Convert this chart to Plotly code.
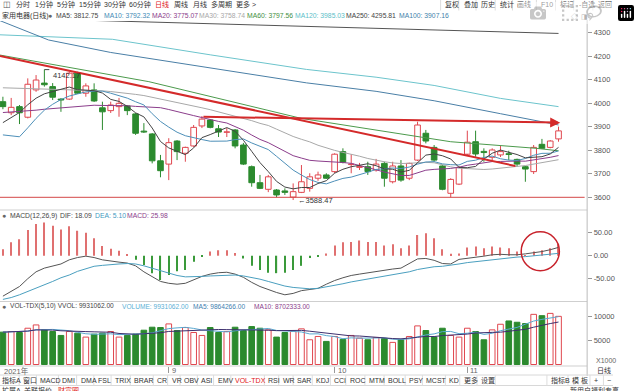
import plotly.graph_objects as go
import pandas as pd

# ---------------- data ----------------
opens = [4006, 3959, 3985, 3940, 4056, 4085, 4070, 4017, 4017, 4127, 4042, 4056, 3980, 3968, 3985, 3988,
         3954, 3881, 3869, 3755, 3741, 3839, 3787, 3818, 3903, 3928, 3891, 3876, 3886, 3822, 3730, 3662,
         3634, 3631, 3627, 3601, 3621, 3638, 3681, 3695, 3709, 3794, 3739, 3727, 3730, 3716, 3744, 3666,
         3733, 3681, 3758, 3872, 3812, 3733, 3617, 3656, 3783, 3836, 3795, 3770, 3780, 3785, 3761, 3730,
         3709, 3825, 3812, 3848]
highs = [4027, 4022, 3992, 4105, 4119, 4142.17, 4085, 4021, 4133, 4133, 4084, 4084, 4006, 4006, 4022, 3992,
         3958, 3915, 3873, 3780, 3851, 3843, 3815, 3907, 3945, 3932, 3907, 3894, 3890, 3831, 3735, 3695,
         3695, 3635, 3638, 3659, 3737, 3702, 3709, 3702, 3787, 3808, 3783, 3746, 3751, 3763, 3751, 3751,
         3758, 3747, 3921, 3886, 3822, 3737, 3681, 3733, 3883, 3883, 3808, 3808, 3818, 3798, 3764, 3733,
         3822, 3848, 3843, 3900]
lows = [3974, 3949, 3911, 3935, 4048, 4070, 4013, 3963, 4013, 4039, 4027, 4005, 3886, 3958, 3942, 3949,
        3865, 3873, 3744, 3685, 3673, 3758, 3751, 3814, 3894, 3893, 3856, 3856, 3808, 3737, 3645, 3635,
        3622, 3600, 3610, 3588.47, 3618, 3624, 3670, 3678, 3702, 3744, 3702, 3716, 3695, 3709, 3645, 3659,
        3666, 3673, 3754, 3829, 3751, 3630, 3600, 3652, 3775, 3772, 3751, 3758, 3771, 3758, 3730, 3666,
        3699, 3805, 3808, 3836]
closes = [3985, 3982, 3959, 4080, 4098, 4078, 4025, 4013, 4127, 4042, 4073, 4009, 3963, 3992, 3999, 3968,
          3872, 3877, 3755, 3713, 3832, 3794, 3812, 3897, 3932, 3897, 3877, 3878, 3818, 3741, 3662, 3638,
          3687, 3610, 3621, 3624, 3666, 3687, 3695, 3681, 3783, 3749, 3741, 3731, 3709, 3741, 3681, 3733,
          3673, 3744, 3907, 3839, 3758, 3634, 3676, 3727, 3834, 3784, 3790, 3801, 3794, 3782, 3741, 3720,
          3812, 3808, 3839, 3882]
# volume in units of 1000 shares (axis label "X1000")
volumes = [6670, 6800, 6600, 7480, 8160, 7140, 6800, 5990, 6800, 6460, 5650, 6260, 6460, 6800, 5650, 5990,
           6260, 7070, 7690, 7620, 8370, 7010, 7620, 6600, 5990, 7620, 6600, 6800, 7690, 7010, 7820, 7480,
           7140, 5650, 6600, 6800, 7350, 5100, 5780, 4760, 5780, 5170, 5990, 5440, 5100, 5580, 5370, 4560,
           5170, 5780, 7960, 7010, 5650, 7480, 5990, 5650, 7480, 6800, 5100, 7140, 8300, 8980, 8710, 8440,
           10340, 10070, 10540, 9931]
macd_hist = [14, 29, 36, 56, 69, 72, 65, 57, 64, 54, 50, 38, 21, 15, 11, 3, -9, -20, -38, -53, -42, -34, -31,
             -13, -1, 9, 12, 12, 6, -6, -22, -31, -37, -38, -37, -31, -22, -5, -1, 5, 22, 29, 30, 33, 30, 30,
             22, 25, 16, 22, 45, 49, 38, 14, 4, 5, 18, 20, 16, 20, 18, 16, 9, 1.5, 9, 12, 16, 26]
dif = [-88, -78, -67, -50, -35, -27, -23, -18, -9, -4, -1, -4, -9, -12, -14, -16, -22, -35, -46, -56, -60,
       -62, -60, -52, -45, -40, -37, -36, -40, -47, -58, -67, -74, -80, -85, -82, -76, -74, -71, -62, -54,
       -48, -43, -40, -37, -34, -31, -29, -27, -17, -7, -6, -10, -17, -18, -8, -6, -3, -1, 2, 3, 2, 2, 4, 6,
       9, 13, 18.09]
dea = [-95, -91, -85, -78, -70, -63, -56, -48, -42, -34, -28, -23, -21, -19, -18, -17, -18, -22, -27, -33,
       -38, -43, -46, -46, -45, -44, -43, -42, -42, -44, -47, -51, -56, -61, -66, -69, -71, -72, -71, -68,
       -64, -61, -57, -54, -51, -48, -45, -42, -38, -35, -30, -27, -24, -23, -21, -18, -15, -13, -10, -8,
       -6, -5, -3, -2, 0, 2, 4, 5.10]

# moving-average values read for the first bars (their history lies left of the window)
ma5_head = [3917, 3938, 3960, 3993]
ma10_head = [3865, 3860, 3857, 3895, 3935, 3970, 3995, 4015, 4030]
ma20_head = [3960, 3962, 3963, 3966, 3970, 3974, 3977, 3979, 3983, 3986, 3990, 3991, 3990, 3990, 3990,
             3989, 3986, 3984, 3982]
ma30_head = [4065, 4064, 4062, 4062, 4061, 4060, 4059, 4058, 4058, 4057, 4056, 4054, 4052, 4049, 4046,
             4042, 4037, 4032, 4025, 4018, 4010, 4002, 3994, 3987, 3980, 3972, 3963, 3954, 3945]

# long moving averages read at sample bars
ma60_bars = [-0.35, 17.6, 36, 50, 54, 64.3, 67]
ma60_vals = [4204, 4091, 3935, 3857, 3836, 3808, 3797.56]
ma100_bars = [-0.35, 5.5, 13, 25, 36.6, 45, 52, 60, 67]
ma100_vals = [4350, 4268, 4215, 4150, 4086, 4050, 4010, 3955, 3907.16]
ma120_bars = [-0.35, 13.2, 25, 36.6, 45, 52, 60, 67]
ma120_vals = [4290, 4271, 4205, 4143, 4110, 4075, 4020, 3985.03]
ma250_bars = [-0.35, 17, 36.6, 50, 67]
ma250_vals = [4362, 4345, 4326, 4314, 4295.81]

# user drawn marks
trend_x = [-0.35, 61.8]
trend_y = [4200, 3733]
hline_x = [24, 67.2]
hline_y = [3942, 3917]
support_level = 3600
circle_x = [62.5, 67.1]
circle_y = [-32.6, 52.2]

month_bars = [0, 20, 40, 56]
month_labels = ["2021年", "9", "10", "11"]
price_ticks = [3600, 3700, 3800, 3900, 4000, 4100, 4200, 4300]
macd_ticks = [-50, 0, 50]
vol_ticks = [5000, 10000]

# ---------------- figure ----------------
W, H = 640, 391
RED = "#e0474f"
GREEN = "#2b8a2e"
FONT = "Liberation Sans, Arial, Noto Sans CJK SC, sans-serif"

n = len(closes)
xs = list(range(n))
s = pd.Series(closes, dtype=float)


def moving(win, head):
    m = s.rolling(win).mean()
    for i, val in enumerate(head):
        m.iloc[i] = val
    return m


ma5 = moving(5, ma5_head)
ma10 = moving(10, ma10_head)
ma20 = moving(20, ma20_head)
ma30 = moving(30, ma30_head)
v = pd.Series(volumes, dtype=float)
vma5 = v.rolling(5, min_periods=1).mean()
vma10 = v.rolling(10, min_periods=1).mean()

fig = go.Figure()

for up in (True, False):
    idx = [i for i in xs if (closes[i] >= opens[i]) == up]
    col = RED if up else GREEN
    base = [min(opens[i], closes[i]) for i in idx]
    hgt = [max(abs(closes[i] - opens[i]), 2.0) for i in idx]
    fig.add_trace(go.Bar(x=idx, y=hgt, base=base, width=0.68,
                         marker=dict(color="white" if up else GREEN, line=dict(color=col, width=1)),
                         xaxis="x", yaxis="y", showlegend=False, hoverinfo="skip"))
    wx, wy = [], []
    for i in idx:
        top, bot = max(opens[i], closes[i]), min(opens[i], closes[i])
        wx += [i, i, None, i, i, None]
        wy += [highs[i], top, None, bot, lows[i], None]
    fig.add_trace(go.Scatter(x=wx, y=wy, mode="lines", line=dict(color=col, width=1),
                             xaxis="x", yaxis="y", showlegend=False, hoverinfo="skip"))


def line(x, y, color, ax="x", ay="y", w=1):
    fig.add_trace(go.Scatter(x=x, y=y, mode="lines", line=dict(color=color, width=w),
                             xaxis=ax, yaxis=ay, showlegend=False, hoverinfo="skip"))


line(ma250_bars, ma250_vals, "#555555")
line(ma120_bars, ma120_vals, "#6cc4cc")
line(ma100_bars, ma100_vals, "#4a7fa6")
line(ma60_bars, ma60_vals, "#4c9a4c")
line(xs, ma30, "#a8a8a8")
line(xs, ma20, "#8b3d8b")
line(xs, ma10, "#4d8fb8")
line(xs, ma5, "#444444")

for pos in (True, False):
    idx = [i for i in xs if (macd_hist[i] >= 0) == pos]
    fig.add_trace(go.Bar(x=idx, y=[macd_hist[i] for i in idx], width=0.14,
                         marker=dict(color="#e07070" if pos else "#3a9a3a", line=dict(width=0)),
                         xaxis="x2", yaxis="y2", showlegend=False, hoverinfo="skip"))
line(xs, dif, "#555555", "x2", "y2")
line(xs, dea, "#4a9fbf", "x2", "y2")

for up in (True, False):
    idx = [i for i in xs if (closes[i] >= opens[i]) == up]
    fig.add_trace(go.Bar(x=idx, y=[volumes[i] for i in idx], width=0.68,
                         marker=dict(color="white" if up else GREEN,
                                     line=dict(color=RED if up else GREEN, width=1)),
                         xaxis="x3", yaxis="y3", showlegend=False, hoverinfo="skip"))
line(xs, vma5, "#5aa8d0", "x3", "y3")
line(xs, vma10, "#3d2f6e", "x3", "y3")

# ---------------- layout ----------------
PW = 613
XR = [-0.35, 70.45]


def py(p):
    return 1 - p / H


axcommon = dict(range=XR, domain=[0, PW / W], showgrid=False, zeroline=False, automargin=False,
                showticklabels=False, ticks="", showline=False, fixedrange=True)
ycommon = dict(side="right", showgrid=False, zeroline=False, ticks="outside", ticklen=4, automargin=False,
               tickcolor="#999999", tickfont=dict(size=7.5, color="#555555", family=FONT),
               showline=False, fixedrange=True)

fig.update_layout(
    width=W, height=H, margin=dict(l=0, r=W - PW, t=0, b=0, pad=0), autosize=False,
    paper_bgcolor="white", plot_bgcolor="white", barmode="overlay", showlegend=False,
    font=dict(family=FONT),
    xaxis=dict(axcommon, anchor="y"),
    xaxis2=dict(axcommon, anchor="y2"),
    xaxis3=dict(axcommon, anchor="y3", tickvals=month_bars[1:], ticks="outside", ticklen=6,
                tickcolor="#999999"),
    yaxis=dict(ycommon, anchor="x", domain=[py(208), py(21)], range=[3554.6, 4348.6],
               tickvals=price_ticks, ticktext=[str(t) for t in price_ticks]),
    yaxis2=dict(ycommon, anchor="x2", domain=[py(301), py(211)], range=[-98.5, 97.2],
                tickvals=macd_ticks, ticktext=["%.2f" % t for t in macd_ticks]),
    yaxis3=dict(ycommon, anchor="x3", domain=[py(366), py(302)], range=[-309, 12887],
                tickvals=vol_ticks, ticktext=[str(t) for t in vol_ticks]),
)

shapes = []
for yy in (210, 301.5, 366):
    shapes.append(dict(type="line", xref="paper", yref="paper", x0=0, x1=PW / W, y0=py(yy), y1=py(yy),
                       line=dict(color="#cfcfcf", width=1)))
shapes.append(dict(type="line", xref="paper", yref="paper", x0=PW / W, x1=PW / W, y0=py(376), y1=py(20),
                   line=dict(color="#bbbbbb", width=1)))
shapes.append(dict(type="line", xref="x", yref="y", x0=XR[0], x1=XR[1] - 0.3, y0=support_level,
                   y1=support_level, line=dict(color="#d44848", width=1)))
shapes.append(dict(type="line", xref="x", yref="y", x0=trend_x[0], x1=trend_x[1], y0=trend_y[0],
                   y1=trend_y[1], line=dict(color="#d42a2a", width=2)))
shapes.append(dict(type="circle", xref="x2", yref="y2", x0=circle_x[0], x1=circle_x[1], y0=circle_y[0],
                   y1=circle_y[1], line=dict(color="#c8232c", width=1.5)))
shapes.append(dict(type="line", xref="x", yref="y", x0=5, x1=5.6, y0=highs[5], y1=highs[5],
                   line=dict(color="#444444", width=1)))
for yy in (375, 385.5):
    shapes.append(dict(type="line", xref="paper", yref="paper", x0=0, x1=1, y0=py(yy), y1=py(yy),
                       line=dict(color="#d8d8d8", width=1)))

tabs = [("指标A", 0), ("窗口", 22), ("MACD", 40), ("DMI", 63), ("DMA", 82), ("FSL", 100), ("TRIX", 118),
        ("BRAR", 138), ("CR", 162), ("VR", 177), ("OBV", 190), ("ASI", 208), ("EMV", 225), ("VOL-TDX", 243),
        ("RSI", 278), ("WR", 293), ("SAR", 308), ("KDJ", 328), ("CCI", 347), ("ROC", 363), ("MTM", 383),
        ("BOLL", 403), ("PSY", 425), ("MCST", 443), ("KD", 467), ("更多", 482), ("设置", 500),
        ("指标B", 573), ("模 板", 595), ("+", 618), ("−", 632)]
for t, x in tabs[1:]:
    shapes.append(dict(type="line", xref="paper", yref="paper", x0=(x - 2) / W, x1=(x - 2) / W,
                       y0=py(385.5), y1=py(375), line=dict(color="#dddddd", width=1)))
shapes.append(dict(type="line", xref="paper", yref="paper", x0=517 / W, x1=517 / W,
                   y0=py(385.5), y1=py(375), line=dict(color="#dddddd", width=1)))
tool_r = [("复权", 463), ("叠加", 482), ("历史", 500), ("统计", 520), ("画线", 538), ("F10", 563),
          ("标记", 583), ("-自选", 602), ("返回", 622)]
for t, x in tool_r:
    shapes.append(dict(type="line", xref="paper", yref="paper", x0=(x - 3) / W, x1=(x - 3) / W,
                       y0=py(10.5), y1=py(0), line=dict(color="#dddddd", width=1)))
fig.update_layout(shapes=shapes)

ann = []


def txt(x, y, t, color="#333333", size=7, anchor="left"):
    ann.append(dict(xref="paper", yref="paper", x=x / W, y=py(y), text=t, showarrow=False,
                    xanchor=anchor, yanchor="middle", font=dict(size=size, color=color, family=FONT)))


ann.append(dict(xref="x", yref="y", axref="x", ayref="y", x=hline_x[1], y=hline_y[1], ax=hline_x[0],
                ay=hline_y[0], showarrow=True, arrowhead=2, arrowsize=1, arrowwidth=2,
                arrowcolor="#d42a2a", text=""))
ann.append(dict(xref="x", yref="y", x=5.75, y=highs[5], text="4142.17", showarrow=False, xanchor="left",
                yanchor="top", yshift=1, font=dict(size=7.5, color="#333333", family=FONT)))
ann.append(dict(xref="x", yref="y", x=35.4, y=lows[35], text="←3588.47", showarrow=False, xanchor="left",
                yanchor="middle", font=dict(size=7.5, color="#333333", family=FONT)))

txt(1, 5, "◫", "#555555", 7.5)
tool = [("分时", 15), ("1分钟", 34), ("5分钟", 57), ("15分钟", 80), ("30分钟", 107), ("60分钟", 133),
        ("日线", 160), ("周线", 180), ("月线", 199), ("多周期", 218), ("更多 >", 244)]
for t, x in tool:
    txt(x, 5, t, "#e02020" if t == "日线" else "#333333", 7)
for t, x in tool_r:
    txt(x, 5, t, "#333333", 7)

txt(0, 15.5, "家用电器(日线)", "#333333", 7)
txt(48, 15.5, "●", "#666666", 7)
legend = [("MA5: 3812.75", 56, "#444444"), ("MA10: 3792.32", 106, "#3f8ab5"),
          ("MA20: 3775.07", 157, "#8b3d8b"), ("MA30: 3758.74", 206, "#a8a8a8"),
          ("MA60: 3797.56", 256, "#3f8f3f"), ("MA120: 3985.03", 306, "#5cc0c8"),
          ("MA250: 4295.81", 359, "#444444"), ("MA100: 3907.16", 414, "#3f7faa")]
for t, x, c in legend:
    txt(x, 15.5, t, c, 6.8)
txt(594, 16, "◇", "#666666", 7)
txt(604, 16, "◨", "#666666", 7)

txt(0, 215.5, "●", "#666666", 7)
for t, x, c in [("MACD(12,26,9)", 8, "#444444"), ("DIF: 18.09", 61, "#444444"),
                ("DEA: 5.10", 97, "#3f9abf"), ("MACD: 25.98", 131, "#8b3d8b")]:
    txt(x, 215.5, t, c, 6.8)
txt(0, 306, "●", "#666666", 7)
for t, x, c in [("VOL-TDX(5,10) VVOL: 9931062.00", 8, "#444444"), ("VOLUME: 9931062.00", 125, "#5ab0d6"),
                ("MA5: 9864266.00", 199, "#3f80b0"), ("MA10: 8702333.00", 263, "#8b3d8b")]:
    txt(x, 306, t, c, 6.6)

txt(620, 360, "X1000", "#666666", 7)
txt(621, 370.5, "日线", "#333333", 7)

for b, lab in zip(month_bars, month_labels):
    ann.append(dict(xref="x3", yref="paper", x=b, y=py(370.5), text=lab, showarrow=False,
                    xanchor="left", yanchor="middle", xshift=1 if b else -1,
                    font=dict(size=7.5, color="#666666", family=FONT)))

for t, x in tabs:
    txt(x, 380.5, t, "#e02020" if t == "VOL-TDX" else "#333333", 7)
for t, x, c in [("扩展A", 0, "#333333"), ("关联报价", 23, "#333333"), ("财富圈", 58, "#e02020"),
                ("新用户福利专享", 593, "#333333")]:
    txt(x, 390.5, t, c, 7)

fig.update_layout(annotations=ann)
fig.write_html("out.html", post_script="document.body.style.margin='0px';")
